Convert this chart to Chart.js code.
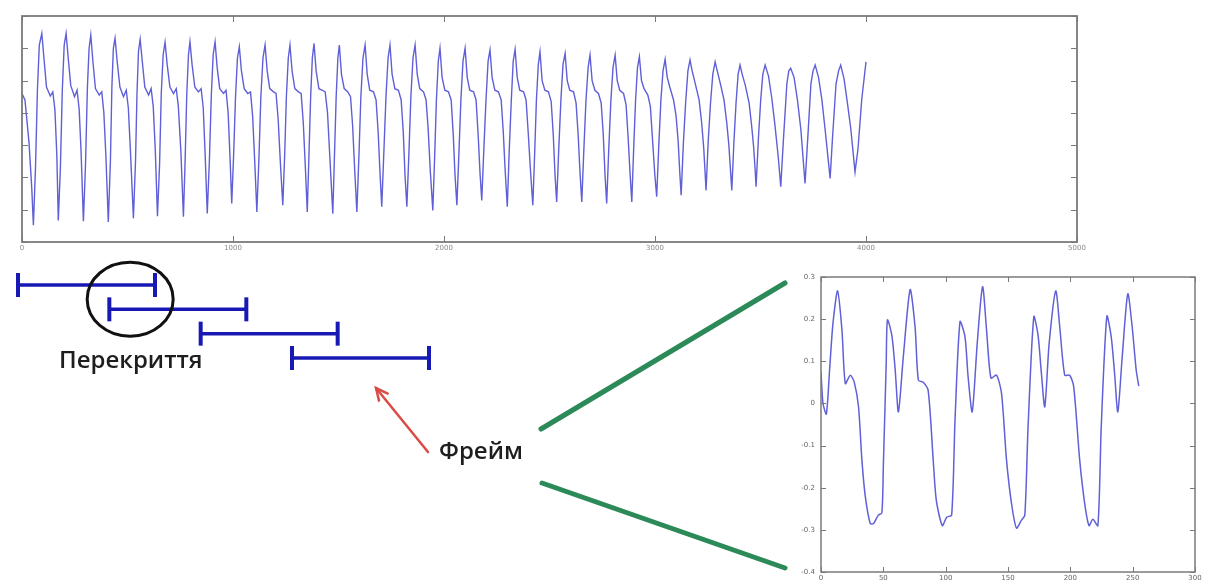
<!DOCTYPE html>
<html><head><meta charset="utf-8">
<script src="https://cdn.jsdelivr.net/npm/chart.js@4.4.1/dist/chart.umd.min.js"></script>
<style>
html,body{margin:0;padding:0;background:#fff;}
#wrap{position:relative;width:1208px;height:580px;overflow:hidden;background:#fff;}
canvas{position:absolute;}
</style></head><body>
<div id="wrap">
<canvas id="big" style="left:0;top:0;width:1208px;height:260px;" width="1208" height="260"></canvas>
<canvas id="small" style="left:780px;top:260px;width:428px;height:320px;" width="428" height="320"></canvas>
<canvas id="diag" style="left:0;top:0;width:1208px;height:580px;" width="1208" height="580"></canvas>
</div>
<script>
// ---------- data: full signal ----------
const bigX = [0,14,33,46,
54,64,73,82,94,104,116,134,146,156,165,
172,182,191,200,209,219,231,249,261,271,280,
291,301,310,318,326,336,348,366,378,388,398,
409,419,426,433,441,451,464,481,494,504,514,
528,538,545,552,560,570,582,600,612,622,632,
642,652,660,669,678,688,701,718,731,741,753,
765,773,781,789,796,806,819,836,849,859,868,
878,888,897,906,915,925,937,955,967,977,986,
994,1003,1012,1021,1030,1040,1053,1070,1083,1093,1103,
1113,1123,1132,1142,1152,1162,1174,1192,1204,1214,1225,
1236,1245,1253,1262,1270,1280,1293,1310,1323,1333,1343,
1352,1360,1368,1376,1384,1394,1407,1424,1437,1448,1460,
1473,1481,1489,1497,1504,1514,1527,1544,1557,1567,1577,
1587,1597,1606,1616,1626,1636,1648,1666,1678,1688,1697,
1705,1715,1725,1735,1744,1754,1767,1784,1797,1807,1815,
1824,1834,1843,1853,1863,1873,1885,1903,1915,1925,1935,
1947,1956,1964,1973,1981,1991,2004,2021,2034,2044,2052,
2061,2071,2080,2090,2100,2110,2122,2140,2152,2162,2171,
2179,2189,2199,2209,2218,2228,2241,2258,2271,2281,2290,
2300,2309,2319,2328,2337,2347,2359,2377,2389,2399,2410,
2421,2430,2438,2447,2455,2465,2478,2495,2508,2518,2526,
2534,2544,2554,2564,2574,2584,2596,2614,2626,2636,2645,
2653,2663,2673,2683,2692,2702,2715,2732,2745,2755,2763,
2771,2781,2791,2801,2811,2821,2833,2851,2863,2873,2882,
2890,2899,2908,2917,2926,2936,2948,2966,2978,2988,2999,
3008,3018,3028,3038,3048,3058,3070,3088,3100,3110,3117,
3124,3134,3145,3156,3166,3176,3191,3209,3221,3231,3237,
3242,3252,3263,3274,3285,3295,3310,3327,3340,3350,3358,
3364,3374,3384,3394,3403,3413,3428,3446,3458,3468,3475,
3479,3490,3501,3511,3522,3538,3554,3569,3585,
3596,3608,3625,3634,3643,3659,3675,3691,3703,
3711,3723,3739,3749,3759,3775,3791,3806,3820,
3830,3841,3858,3870,3880,3896,3912,3928,
3948,3962,3980,4000];
const bigY = [0.06,0.04,-0.09,-0.23,
-0.348,-0.17,0.07,0.21,0.246,0.17,0.08,0.052,0.065,0.01,-0.13,
-0.333,-0.17,0.07,0.21,0.246,0.17,0.085,0.05,0.07,0.01,-0.12,
-0.336,-0.16,0.08,0.20,0.241,0.16,0.075,0.055,0.065,0.0,-0.14,
-0.338,-0.15,0.08,0.20,0.231,0.16,0.08,0.05,0.07,0.015,-0.12,
-0.326,-0.15,0.06,0.19,0.228,0.16,0.08,0.055,0.075,0.02,-0.12,
-0.320,-0.16,0.06,0.18,0.219,0.15,0.08,0.06,0.075,0.02,-0.12,
-0.322,-0.15,0.06,0.18,0.220,0.15,0.08,0.065,0.075,0.015,-0.13,
-0.312,-0.15,0.05,0.18,0.220,0.14,0.075,0.06,0.07,0.0,-0.14,
-0.281,-0.13,0.05,0.17,0.205,0.13,0.075,0.06,0.065,-0.01,-0.15,
-0.307,-0.14,0.05,0.17,0.210,0.13,0.075,0.065,0.06,-0.02,-0.16,
-0.286,-0.13,0.05,0.17,0.210,0.13,0.075,0.065,0.06,-0.03,-0.17,
-0.307,-0.13,0.05,0.17,0.215,0.13,0.075,0.07,0.065,0.0,-0.15,
-0.312,-0.13,0.05,0.17,0.210,0.12,0.075,0.065,0.05,-0.04,-0.18,
-0.307,-0.13,0.05,0.17,0.210,0.12,0.07,0.065,0.04,-0.06,-0.19,
-0.291,-0.12,0.05,0.17,0.210,0.12,0.075,0.07,0.04,-0.06,-0.19,
-0.291,-0.12,0.05,0.17,0.210,0.12,0.075,0.065,0.04,-0.05,-0.18,
-0.302,-0.13,0.04,0.16,0.200,0.11,0.07,0.065,0.04,-0.07,-0.19,
-0.286,-0.12,0.04,0.16,0.200,0.11,0.07,0.065,0.04,-0.07,-0.19,
-0.271,-0.11,0.04,0.16,0.195,0.11,0.07,0.065,0.04,-0.06,-0.18,
-0.291,-0.12,0.04,0.16,0.197,0.11,0.07,0.065,0.04,-0.06,-0.18,
-0.286,-0.12,0.04,0.15,0.189,0.10,0.07,0.065,0.035,-0.07,-0.19,
-0.276,-0.11,0.04,0.15,0.184,0.10,0.07,0.065,0.03,-0.07,-0.19,
-0.276,-0.11,0.04,0.14,0.179,0.10,0.07,0.06,0.03,-0.07,-0.19,
-0.281,-0.11,0.04,0.14,0.179,0.10,0.07,0.06,0.025,-0.08,-0.19,
-0.276,-0.11,0.04,0.14,0.174,0.10,0.075,0.055,0.02,-0.08,-0.19,
-0.260,-0.10,0.04,0.13,0.166,0.11,0.08,0.04,-0.01,-0.09,-0.18,
-0.255,-0.10,0.03,0.13,0.164,0.13,0.09,0.04,-0.03,-0.11,-0.18,
-0.240,-0.09,0.03,0.12,0.158,0.13,0.09,0.04,-0.03,-0.10,-0.18,
-0.240,-0.09,0.03,0.12,0.148,0.12,0.085,0.03,-0.04,-0.11,-0.18,
-0.229,-0.08,0.04,0.12,0.148,0.114,0.043,-0.041,-0.143,
-0.229,-0.09,0.09,0.13,0.138,0.11,0.04,-0.05,-0.15,
-0.219,-0.09,0.09,0.13,0.148,0.11,0.04,-0.05,-0.14,
-0.203,-0.08,0.09,0.13,0.148,0.105,0.03,-0.05,
-0.183,-0.112,0.043,0.158];
const bigXTicks = [0,1000,2000,3000,4000,5000];
const valueTicks = [-0.4,-0.3,-0.2,-0.1,0,0.1,0.2,0.3];

// ---------- data: one frame (zoom) ----------
const smallX = [0,1.6,4.3,6.9,9.6,13.3,16.8,19.5,23.5,26.7,30.1,32.8,35.5,39.5,42.1,46,48.8,50,52.3,53.3,56.8,59.5,62.1,66,71.5,75.5,78.1,82,86,90,92.5,97.3,100.8,104.8,107.5,111.5,115.5,118,121.3,125.3,129.6,132.8,136.3,140.8,144.8,148.8,152.8,156.8,160.8,163.5,166.1,170.7,174.1,176.8,179.5,183,188.3,191.5,195.5,199.5,202.7,207.5,211.5,215,218.1,222.1,224.8,229.3,232.8,235.5,238.1,241.6,246.1,249.6,252.8,254.9];
const smallY = [0.075,0.0,-0.025,0.08,0.19,0.267,0.174,0.047,0.067,0.05,-0.008,-0.134,-0.22,-0.285,-0.285,-0.265,-0.26,-0.15,0.095,0.198,0.162,0.08,-0.02,0.11,0.27,0.18,0.055,0.05,0.03,-0.134,-0.23,-0.29,-0.27,-0.265,-0.04,0.194,0.158,0.063,-0.02,0.142,0.277,0.174,0.06,0.067,0.024,-0.134,-0.237,-0.296,-0.277,-0.265,-0.055,0.206,0.162,0.071,-0.008,0.142,0.267,0.182,0.067,0.067,0.04,-0.134,-0.237,-0.29,-0.275,-0.29,-0.055,0.207,0.158,0.071,-0.02,0.11,0.26,0.182,0.08,0.041];
const smallXTicks = [0,50,100,150,200,250,300];

// ---------- data: overlapping frames (in hop units) ----------
const frameStart = [0,1,2,3];
const frameEnd = [1.5,2.5,3.5,4.5];
const frameRow = [1,2,3,4];
const overlapLabel = 'Перекриття';
const frameLabel = 'Фрейм';

// ---------- plugins ----------
function fmt(v){ const r = Math.round(v*1000)/1000; return String(r); }

const boxAxes = {
  id: 'boxAxes',
  afterDatasetsDraw(chart, args, o) {
    const {ctx, chartArea: a} = chart;
    const xs = chart.scales.x, ys = chart.scales.y;
    ctx.save();
    ctx.strokeStyle = o.color;
    ctx.lineWidth = o.tickWidth;
    ctx.beginPath();
    xs.ticks.forEach(t => {
      const p = Math.round(xs.getPixelForValue(t.value)) + 0.5;
      ctx.moveTo(p, a.bottom); ctx.lineTo(p, a.bottom - o.tickLen);
      ctx.moveTo(p, a.top); ctx.lineTo(p, a.top + o.tickLen);
    });
    ys.ticks.forEach(t => {
      const p = Math.round(ys.getPixelForValue(t.value)) + 0.5;
      ctx.moveTo(a.left, p); ctx.lineTo(a.left + o.tickLen, p);
      ctx.moveTo(a.right, p); ctx.lineTo(a.right - o.tickLen, p);
    });
    ctx.stroke();
    ctx.lineWidth = o.borderWidth;
    ctx.strokeRect(a.left, a.top, a.right - a.left, a.bottom - a.top);
    ctx.fillStyle = o.labelColor;
    ctx.font = o.font;
    if (o.xLabels) {
      ctx.textAlign = 'center'; ctx.textBaseline = 'top';
      xs.ticks.forEach(t => ctx.fillText(fmt(t.value), xs.getPixelForValue(t.value), a.bottom + o.xGap));
    }
    if (o.yLabels) {
      ctx.textAlign = 'right'; ctx.textBaseline = 'middle';
      ys.ticks.forEach(t => ctx.fillText(fmt(t.value), a.left - o.yGap, ys.getPixelForValue(t.value)));
    }
    ctx.restore();
  }
};

const diagram = {
  id: 'diagram',
  afterDatasetsDraw(chart) {
    const {ctx} = chart;
    const xs = chart.scales.x, ys = chart.scales.y;
    ctx.save();
    // ellipse around the overlap of frame 1 and frame 2
    const cx = xs.getPixelForValue((frameStart[1] + frameEnd[0]) / 2) - 2;
    const cy = ys.getPixelForValue((frameRow[0] + frameRow[1]) / 2) + 2;
    ctx.strokeStyle = '#111';
    ctx.lineWidth = 3;
    ctx.beginPath();
    ctx.ellipse(cx, cy, 43, 37, 0, 0, Math.PI * 2);
    ctx.stroke();
    // labels
    ctx.fillStyle = '#1e1e1e';
    ctx.font = '600 24px "Open Sans"';
    ctx.textAlign = 'left';
    ctx.textBaseline = 'alphabetic';
    ctx.fillText(overlapLabel, 59, 368);
    ctx.fillText(frameLabel, 439, 459);
    // red arrow
    ctx.strokeStyle = '#dc4a46';
    ctx.lineWidth = 2.5;
    ctx.lineCap = 'round';
    const tx = 428, ty = 452, hx = 376, hy = 388;
    ctx.beginPath(); ctx.moveTo(tx, ty); ctx.lineTo(hx, hy); ctx.stroke();
    const ang = Math.atan2(hy - ty, hx - tx);
    ctx.beginPath();
    ctx.moveTo(hx - 13 * Math.cos(ang - 0.45), hy - 13 * Math.sin(ang - 0.45));
    ctx.lineTo(hx, hy);
    ctx.lineTo(hx - 13 * Math.cos(ang + 0.45), hy - 13 * Math.sin(ang + 0.45));
    ctx.stroke();
    // green zoom lines
    ctx.strokeStyle = '#2b8a58';
    ctx.lineWidth = 5;
    ctx.beginPath(); ctx.moveTo(541, 429); ctx.lineTo(785, 283); ctx.stroke();
    ctx.beginPath(); ctx.moveTo(542, 483); ctx.lineTo(785, 568); ctx.stroke();
    ctx.restore();
  }
};

Chart.defaults.font.family = '"DejaVu Sans", sans-serif';

// ---------- big chart ----------
new Chart(document.getElementById('big'), {
  type: 'line',
  data: { datasets: [{
    data: bigX.map((x, i) => ({x, y: bigY[i]})),
    borderColor: '#5f5fd8', borderWidth: 1.4, pointRadius: 0, tension: 0, fill: false
  }]},
  options: {
    responsive: false, animation: false, events: [],
    layout: { autoPadding: false, padding: { left: 22, right: 131, top: 16, bottom: 18 } },
    plugins: { legend: { display: false }, tooltip: { enabled: false },
      boxAxes: { color: '#7a7a7a', tickWidth: 1, tickLen: 6, borderWidth: 1.8, labelColor: '#8a8a8a',
        font: '7px "DejaVu Sans"', xLabels: true, yLabels: false, xGap: 3, yGap: 4 } },
    scales: {
      x: { type: 'linear', display: false, min: 0, max: 5000,
           afterBuildTicks: s => { s.ticks = bigXTicks.map(v => ({value: v})); } },
      y: { type: 'linear', display: false, min: -0.4, max: 0.3,
           afterBuildTicks: s => { s.ticks = valueTicks.map(v => ({value: v})); } }
    }
  },
  plugins: [boxAxes]
});

// ---------- small (frame) chart ----------
new Chart(document.getElementById('small'), {
  type: 'line',
  data: { datasets: [{
    data: smallX.map((x, i) => ({x, y: smallY[i]})),
    borderColor: '#6060d8', borderWidth: 1.5, pointRadius: 0, tension: 0.25, fill: false
  }]},
  options: {
    responsive: false, animation: false, events: [],
    layout: { autoPadding: false, padding: { left: 41, right: 13, top: 17, bottom: 8 } },
    plugins: { legend: { display: false }, tooltip: { enabled: false },
      boxAxes: { color: '#7a7a7a', tickWidth: 1, tickLen: 5, borderWidth: 1.5, labelColor: '#666',
        font: '7px "DejaVu Sans"', xLabels: true, yLabels: true, xGap: 3, yGap: 6 } },
    scales: {
      x: { type: 'linear', display: false, min: 0, max: 300,
           afterBuildTicks: s => { s.ticks = smallXTicks.map(v => ({value: v})); } },
      y: { type: 'linear', display: false, min: -0.4, max: 0.3,
           afterBuildTicks: s => { s.ticks = valueTicks.map(v => ({value: v})); } }
    }
  },
  plugins: [boxAxes]
});

// ---------- diagram: overlapping frames + annotations ----------
new Chart(document.getElementById('diag'), {
  type: 'scatter',
  data: { datasets: frameStart.map((s, i) => ({
    data: [{x: s, y: frameRow[i]}, {x: frameEnd[i], y: frameRow[i]}],
    showLine: true, borderColor: '#1818b4', borderWidth: 3.5,
    pointStyle: 'line', pointRotation: 90, pointRadius: 12,
    pointBorderColor: '#1818b4', pointBorderWidth: 4, clip: false
  }))},
  options: {
    responsive: false, animation: false, events: [],
    layout: { autoPadding: false, padding: { left: 18, right: 779, top: 285, bottom: 222 } },
    plugins: { legend: { display: false }, tooltip: { enabled: false } },
    scales: {
      x: { type: 'linear', display: false, min: 0, max: 4.5 },
      y: { type: 'linear', display: false, min: 1, max: 4, reverse: true }
    }
  },
  plugins: [diagram]
});
</script>
</body></html>
